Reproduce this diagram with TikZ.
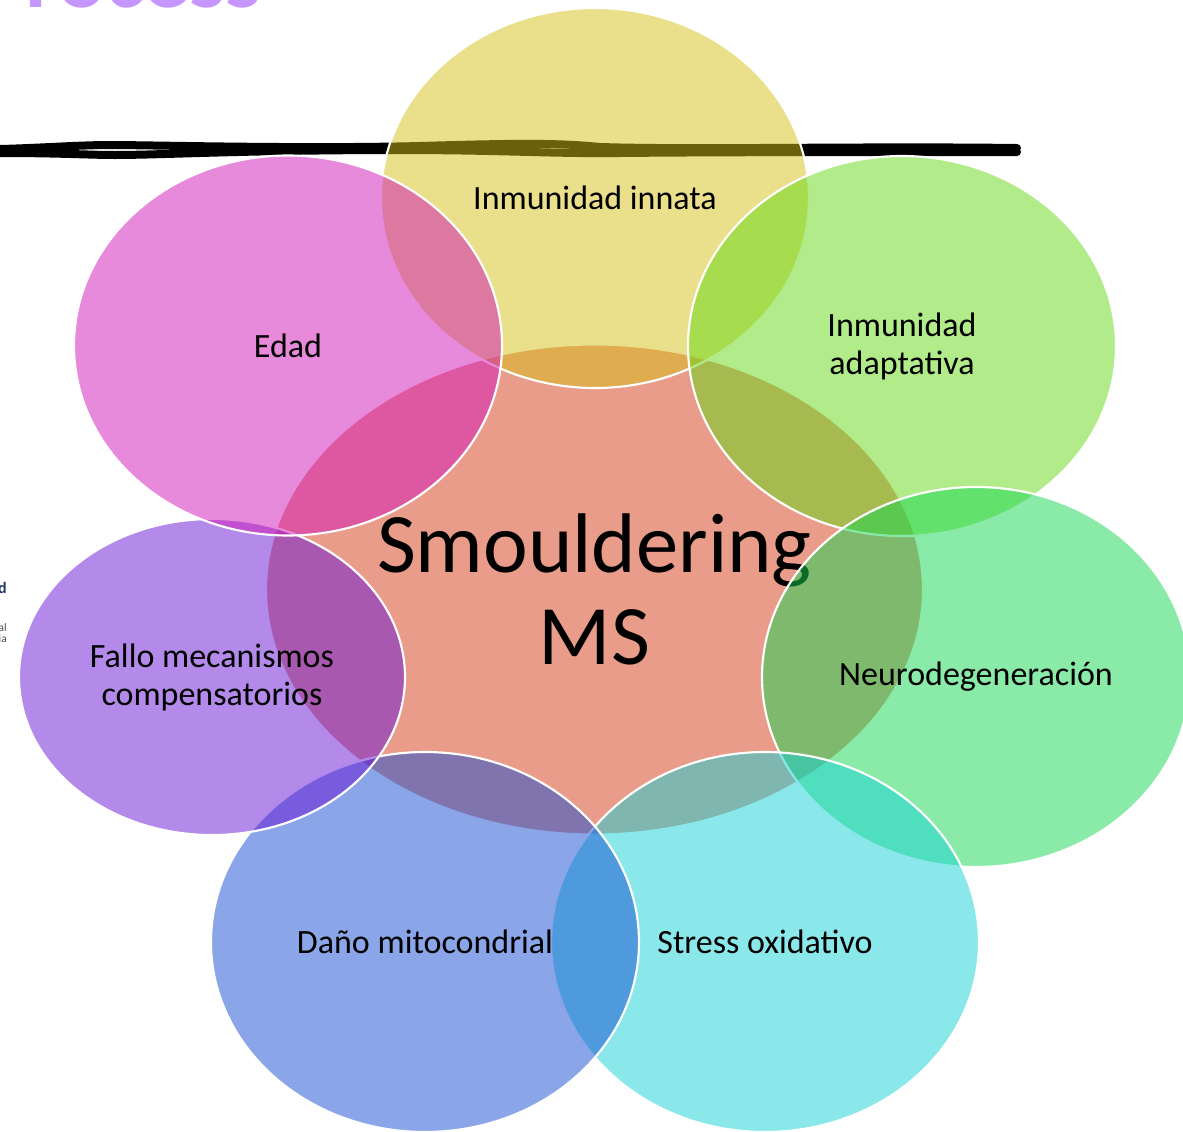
\documentclass[tikz,border=0pt]{standalone}
\usepackage{fontspec}
\setmainfont{Carlito}
\usetikzlibrary{shapes.geometric}
\definecolor{core}{HTML}{D53915}
\definecolor{innate}{HTML}{D5BF15}
\definecolor{adaptive}{HTML}{65D915}
\definecolor{neuro}{HTML}{15D751}
\definecolor{oxid}{HTML}{15D1D5}
\definecolor{mito}{HTML}{154DD1}
\definecolor{fail}{HTML}{6715D5}
\definecolor{age}{HTML}{D115B7}
\definecolor{headline}{HTML}{C596FF}
\definecolor{navy}{HTML}{1F3864}
\tikzset{
  petal/.style={ellipse, draw=white, line width=1.6pt, fill opacity=0.5, text opacity=1,
    minimum width=321pt, minimum height=285pt, inner sep=0pt, align=center,
    font=\fontsize{25.5}{28.5}\selectfont},
  scribble/.style={line width=6pt, line cap=round},
}
\begin{document}
\begin{tikzpicture}[x=0.75pt,y=-0.75pt]
  \useasboundingbox (0,0) rectangle (1183,1132);
  % cut-off pieces of the slide behind
  \node[anchor=base east, inner sep=0pt, text=headline, font=\fontsize{68}{70}\selectfont\bfseries] (title) at (262,7) {Process};
  \node[anchor=base east, inner sep=0pt, text=navy, font=\fontsize{12}{13}\selectfont\bfseries] (fragA) at (7,593) {d};
  \node[anchor=base east, inner sep=0pt, text=black!70, font=\fontsize{8.5}{9}\selectfont] (fragB) at (7,631) {al};
  \node[anchor=base east, inner sep=0pt, text=black!70, font=\fontsize{8.5}{9}\selectfont] (fragC) at (7,642) {ia};
  % hand drawn stroke
  \draw[scribble] (0,149) .. controls (40,148) and (80,145) .. (110,145) .. controls (150,145) and (300,149) .. (420,146)
    .. controls (520,143) and (560,143) .. (600,147) .. controls (700,150) and (850,146) .. (1017,148);
  \draw[scribble] (0,153) .. controls (60,153) and (90,155) .. (115,155) .. controls (160,155) and (250,150) .. (400,150)
    .. controls (500,150) and (560,154) .. (620,153) .. controls (720,152) and (850,152) .. (1017,152);
  % centre
  \node[petal, fill=core, minimum width=492.75pt, minimum height=367.5pt,
    font=\fontsize{63.5}{69}\selectfont] (ms) at (594.5,589.5) {Smouldering\\MS};
  % petals, clockwise from the top
  \node[petal, fill=innate] (innata) at (595,198) {Inmunidad innata};
  \node[petal, fill=adaptive] (adapt) at (902,346) {Inmunidad\\adaptativa};
  \node[petal, fill=neuro] (neuro) at (976,677) {Neurodegeneración};
  \node[petal, fill=oxid] (stress) at (765,942) {Stress oxidativo};
  \node[petal, fill=mito] (dano) at (425,942) {Daño mitocondrial};
  \node[petal, fill=fail, minimum width=289.5pt, minimum height=237pt] (fallo) at (212,677) {Fallo mecanismos\\compensatorios};
  \node[petal, fill=age] (edad) at (288,345.5) {Edad};
\end{tikzpicture}
\end{document}
